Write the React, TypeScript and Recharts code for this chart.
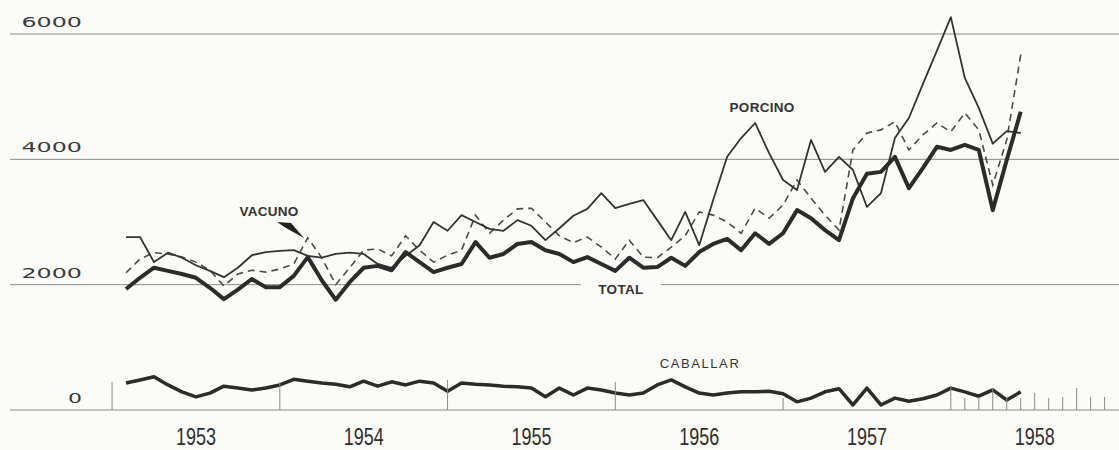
import React from "react";
import { LineChart, Line, XAxis, YAxis, CartesianGrid, ReferenceDot } from "recharts";

// monthly values, Jan 1953 .. May 1958
const total = [
  1930, 2110, 2270, 2220, 2170, 2110, 1950, 1770, 1920, 2090, 1960, 1960,
  2140, 2440, 2070, 1760, 2040, 2270, 2300, 2230, 2520, 2360, 2200, 2270,
  2330, 2680, 2430, 2490, 2650, 2680, 2550, 2490, 2360, 2440, 2330, 2220,
  2430, 2270, 2280, 2430, 2300, 2520, 2650, 2730, 2550, 2820, 2650, 2820,
  3190, 3060, 2870, 2710, 3380, 3770, 3800, 4040, 3540, 3860, 4200, 4150,
  4230, 4150, 3190, 3990, 4760,
];
const porcino = [
  2760, 2760, 2360, 2510, 2430, 2310, 2220, 2120, 2270, 2470, 2520, 2540,
  2550, 2460, 2430, 2490, 2510, 2490, 2330, 2270, 2460, 2630, 3000, 2860,
  3110, 3000, 2890, 2860, 3030, 2940, 2710, 2900, 3100, 3210, 3460, 3220,
  3290, 3350, 3030, 2710, 3160, 2630, 3350, 4040, 4340, 4580, 4100, 3670,
  3510, 4310, 3800, 4040, 3830, 3240, 3460, 4340, 4660, 5200, 5730, 6270,
  5300, 4820, 4250, 4450, 4420,
];
const vacuno = [
  2190, 2410, 2510, 2490, 2440, 2360, 2230, 1980, 2170, 2230, 2200, 2250,
  2330, 2750, 2430, 2000, 2270, 2550, 2570, 2460, 2780, 2550, 2360, 2470,
  2550, 3110, 2820, 3030, 3210, 3220, 3000, 2780, 2670, 2760, 2600, 2410,
  2710, 2440, 2430, 2600, 2780, 3160, 3110, 3000, 2820, 3220, 3060, 3270,
  3670, 3380, 3110, 2870, 4150, 4420, 4470, 4600, 4150, 4390, 4580, 4440,
  4740, 4470, 3590, 4310, 5670,
];
const caballar = [
  430, 480, 530, 400, 290, 210, 270, 380, 350, 320, 350, 400,
  490, 460, 430, 410, 370, 460, 380, 450, 400, 460, 430, 300,
  430, 410, 400, 380, 370, 350, 210, 350, 240, 350, 320, 270,
  240, 270, 400, 480, 370, 270, 240, 270, 290, 290, 300, 260,
  130, 190, 290, 340, 80, 350, 80, 190, 140, 180, 240, 350,
  290, 220, 320, 160, 290,
];

const years = ["1953", "1954", "1955", "1956", "1957", "1958"];
const yTicks = [0, 2000, 4000, 6000];
// tick marks along the base line (month position -> height in px)
const markPositions = [0, 12, 24, 36, 48, 60, 61, 62, 63, 64, 65, 66, 67, 68, 69, 70, 71];
const markHeights = [28, 28, 30, 28, 12, 24, 12, 13, 22, 13, 12, 17, 12, 13, 22, 13, 13];

const W = 1119;
const H = 450;
const PLOT_BOTTOM = 410;
const INK = "#2b2b2b";
const GRID = "#8a8a8a";
const BG = "#fbfbf8";

const rows = total.map((v, i) => ({
  t: i + 1,
  total: v,
  porcino: porcino[i],
  vacuno: vacuno[i],
  caballar: caballar[i],
}));

const labelTicks = years.map((_, i) => i * 12 + 6);
const allTicks = Array.from(new Set([...markPositions, ...labelTicks])).sort((a, b) => a - b);

const XTick = (props: any) => {
  const { x, payload } = props;
  const t = payload.value;
  const mi = markPositions.indexOf(t);
  const li = labelTicks.indexOf(t);
  return (
    <g>
      {mi >= 0 && (
        <line x1={x} x2={x} y1={PLOT_BOTTOM} y2={PLOT_BOTTOM - markHeights[mi]} stroke={GRID} strokeWidth={1} />
      )}
      {li >= 0 && (
        <text
          x={x}
          y={445}
          textAnchor="middle"
          fill="#2e2e2e"
          fontSize={24}
          fontFamily="'Liberation Sans Narrow', 'Liberation Sans', sans-serif"
          textLength={40}
          lengthAdjust="spacingAndGlyphs"
        >
          {years[li]}
        </text>
      )}
    </g>
  );
};

const YTick = (props: any) => {
  const { y, payload } = props;
  const s = String(payload.value);
  return (
    <text
      x={82}
      y={y - 7}
      textAnchor="end"
      fill="#3a3a3a"
      fontSize={14}
      fontFamily="'DejaVu Sans', sans-serif"
      textLength={s.length * 15.5 - 1.5}
      lengthAdjust="spacingAndGlyphs"
    >
      {s}
    </text>
  );
};

const Tag = ({ text, gap, light }: { text: string; gap?: number; light?: boolean }) => (props: any) => {
  const { cx, cy } = props;
  return (
    <g>
      {gap ? <rect x={cx - gap / 2} y={cy - 8} width={gap} height={16} fill={BG} /> : null}
      <text
        x={cx}
        y={cy + 5}
        textAnchor="middle"
        fill="#333"
        fontSize={light ? 13 : 13.5}
        fontWeight={light ? 500 : 700}
        letterSpacing={light ? 1.6 : 0.3}
        fontFamily="'Liberation Sans', Arial, sans-serif"
      >
        {text}
      </text>
    </g>
  );
};

const Pointer = (props: any) => {
  const { cx, cy } = props;
  const pts = [
    [cx - 27, cy - 16],
    [cx - 13, cy - 15],
    [cx, cy],
    [cx - 18, cy - 10],
  ]
    .map((p) => p.join(","))
    .join(" ");
  return <polygon points={pts} fill="#222" />;
};

export default function App() {
  return (
    <div style={{ position: "absolute", left: 0, top: 0, width: W, height: H, background: BG }}>
      <LineChart width={W} height={H} data={rows} margin={{ top: 10, right: 0, bottom: 0, left: 0 }}>
        <CartesianGrid vertical={false} horizontalValues={yTicks} stroke={GRID} strokeWidth={1} />
        <XAxis
          dataKey="t"
          type="number"
          domain={[-7.3, 72.03]}
          allowDataOverflow
          ticks={allTicks}
          interval={0}
          tick={<XTick />}
          tickLine={false}
          axisLine={false}
          height={40}
        />
        <YAxis
          type="number"
          domain={[0, 6383]}
          allowDataOverflow
          ticks={yTicks}
          interval={0}
          tick={<YTick />}
          tickLine={false}
          axisLine={false}
          width={10}
        />
        <Line type="linear" dataKey="vacuno" stroke="#4a4a4a" strokeWidth={1.6} strokeDasharray="7 5" dot={false} isAnimationActive={false} />
        <Line type="linear" dataKey="porcino" stroke="#333" strokeWidth={1.8} dot={false} strokeLinejoin="round" isAnimationActive={false} />
        <Line type="linear" dataKey="total" stroke={INK} strokeWidth={4} dot={false} strokeLinejoin="round" isAnimationActive={false} />
        <Line type="linear" dataKey="caballar" stroke={INK} strokeWidth={3.5} dot={false} strokeLinejoin="round" isAnimationActive={false} />
        <ReferenceDot x={11.23} y={3175} r={0} shape={Tag({ text: "VACUNO" })} />
        <ReferenceDot x={13.73} y={2745} r={0} shape={Pointer} />
        <ReferenceDot x={46.5} y={4835} r={0} shape={Tag({ text: "PORCINO" })} />
        <ReferenceDot x={36.4} y={1931} r={0} shape={Tag({ text: "TOTAL", gap: 80 })} />
        <ReferenceDot x={42.06} y={750} r={0} shape={Tag({ text: "CABALLAR", light: true })} />
      </LineChart>
    </div>
  );
}
